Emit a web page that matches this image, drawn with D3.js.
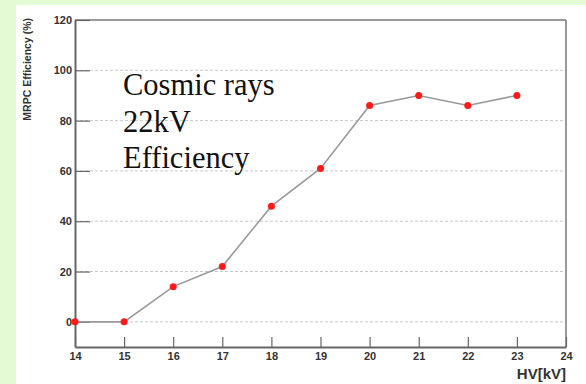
<!DOCTYPE html>
<html>
<head>
<meta charset="utf-8">
<script src="https://cdn.jsdelivr.net/npm/d3@7"></script>
<style>
  html, body { margin: 0; padding: 0; background: #e4fad4; }
  svg { display: block; }
</style>
</head>
<body>
<svg id="chart" width="586" height="384"></svg>
<script>
const hv = [14, 15, 16, 17, 18, 19, 20, 21, 22, 23];
const efficiency = [0, 0, 14, 22, 46, 61, 86, 90, 86, 90];
const xTicks = [14, 15, 16, 17, 18, 19, 20, 21, 22, 23, 24];
const yTicks = [0, 20, 40, 60, 80, 100, 120];
const annotation = ["Cosmic rays", "22kV", "Efficiency"];

const svg = d3.select("#chart");
const W = 586, H = 384;
const m = { left: 75, right: 20, top: 20, bottom: 37 };

svg.append("rect").attr("x", 16).attr("y", 5).attr("width", W - 16).attr("height", H - 5).attr("fill", "#ffffff");

const x = d3.scaleLinear().domain([14, 24]).range([m.left, W - m.right]);
const y = d3.scaleLinear().domain([-10, 120]).range([H - m.bottom, m.top]);

// grid
svg.append("g").selectAll("line").data(yTicks.filter(d => d < 120)).join("line")
  .attr("x1", x(14)).attr("x2", x(24))
  .attr("y1", d => y(d)).attr("y2", d => y(d))
  .attr("stroke", "#c8c8c8").attr("stroke-width", 1).attr("stroke-dasharray", "3,2");

// frame top/right
svg.append("line").attr("x1", x(14)).attr("x2", x(24)).attr("y1", y(120)).attr("y2", y(120))
  .attr("stroke", "#777").attr("stroke-width", 1.5);
svg.append("line").attr("x1", x(24)).attr("x2", x(24)).attr("y1", y(120)).attr("y2", y(-10))
  .attr("stroke", "#777").attr("stroke-width", 1.5);

// y axis
const yAxis = d3.axisLeft(y).tickValues(yTicks).tickSizeInner(-15).tickSizeOuter(0).tickPadding(3).tickFormat(d3.format("d"));
const gy = svg.append("g").attr("transform", `translate(${x(14)},0)`).call(yAxis);
gy.select(".domain").attr("stroke", "#666").attr("stroke-width", 2);
gy.selectAll(".tick line").attr("stroke", "#666").attr("stroke-width", 1.2);
gy.selectAll(".tick text").attr("fill", "#333").attr("font-family", "Liberation Sans, Arial, sans-serif")
  .attr("font-weight", "bold").attr("font-size", 11);

// x axis
const xAxis = d3.axisBottom(x).tickValues(xTicks).tickSizeInner(-10).tickSizeOuter(0).tickPadding(5).tickFormat(d3.format("d"));
const gx = svg.append("g").attr("transform", `translate(0,${y(-10)})`).call(xAxis);
gx.select(".domain").attr("stroke", "#666").attr("stroke-width", 2);
gx.selectAll(".tick line").attr("stroke", "#666").attr("stroke-width", 1.2);
gx.selectAll(".tick text").attr("fill", "#333").attr("font-family", "Liberation Sans, Arial, sans-serif")
  .attr("font-weight", "bold").attr("font-size", 11);

// axis titles
svg.append("text").attr("x", x(24)).attr("y", 379).attr("text-anchor", "end")
  .attr("font-family", "Liberation Sans, Arial, sans-serif").attr("font-weight", "bold")
  .attr("font-size", 15).attr("fill", "#333").text("HV[kV]");
svg.append("text").attr("transform", `translate(31,18) rotate(-90)`).attr("text-anchor", "end")
  .attr("font-family", "Liberation Sans, Arial, sans-serif").attr("font-weight", "bold")
  .attr("font-size", 10.5).attr("fill", "#333").text("MRPC Efficiency (%)");

// data line
const data = hv.map((h, i) => ({ h, e: efficiency[i] }));
svg.append("path").datum(data)
  .attr("d", d3.line().x(d => x(d.h)).y(d => y(d.e)))
  .attr("fill", "none").attr("stroke", "#999").attr("stroke-width", 1.6);
svg.append("g").selectAll("circle").data(data).join("circle")
  .attr("cx", d => x(d.h)).attr("cy", d => y(d.e)).attr("r", 3.5).attr("fill", "#ff1a1a");

// annotation
svg.append("g").selectAll("text").data(annotation).join("text")
  .attr("x", 123).attr("y", (d, i) => 95 + i * 36.5)
  .attr("font-family", "Liberation Serif, Times New Roman, serif").attr("font-size", 30.5)
  .attr("fill", "#111").text(d => d);
</script>
</body>
</html>
